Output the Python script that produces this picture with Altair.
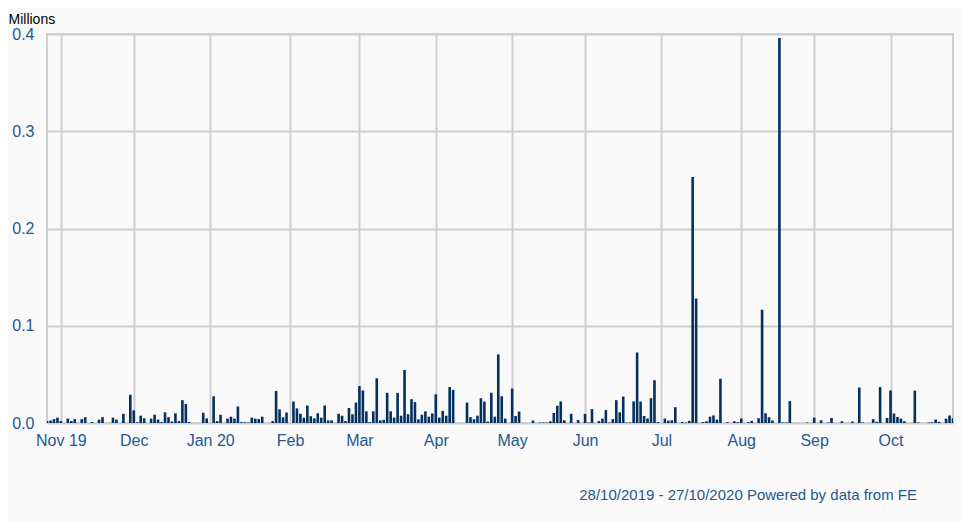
import altair as alt
import pandas as pd

# Daily traded volume (millions), one value per weekday 28/10/2019 .. 27/10/2020
volumes = [
    0.002, 0.0025, 0.004, 0.0055, 0.002, 0, 0.0045, 0.002, 0.004, 0,
    0.004, 0.006, 0, 0.001, 0, 0.0035, 0.006, 0, 0, 0.0055,
    0.0035, 0, 0.0095, 0, 0.029, 0.013, 0.0008, 0.0075, 0.0048, 0,
    0.0045, 0.0085, 0.0035, 0.001, 0.011, 0.006, 0.0015, 0.010, 0.002, 0.0235,
    0.0195, 0.001, 0, 0, 0, 0.0105, 0.0048, 0, 0.0275, 0.002,
    0.0085, 0, 0.0045, 0.0065, 0.0045, 0.017, 0.0008, 0.0008, 0.0005, 0.0055,
    0.0045, 0.004, 0.0065, 0, 0, 0.002, 0.033, 0.014, 0.0058, 0.0108,
    0, 0.022, 0.015, 0.0095, 0.0055, 0.018, 0.007, 0.0048, 0.010, 0.0055,
    0.018, 0.0027, 0.0027, 0, 0.0095, 0.0075, 0.002, 0.0155, 0.009, 0.021,
    0.038, 0.0335, 0.012, 0.001, 0.012, 0.046, 0.0027, 0.0032, 0.031, 0.012,
    0.0055, 0.031, 0.0075, 0.0545, 0.009, 0.0245, 0.0215, 0.0038, 0.0085, 0.012,
    0.0065, 0.0098, 0.0295, 0.0055, 0.0125, 0.0075, 0.037, 0.034, 0, 0,
    0, 0.021, 0.006, 0.0038, 0.0075, 0.0255, 0.022, 0.0015, 0.031, 0.0065,
    0.0705, 0.0275, 0.0045, 0, 0.0355, 0.0072, 0.0118, 0, 0, 0,
    0.0025, 0, 0.0005, 0.0005, 0.0005, 0.0018, 0.0103, 0.0178, 0.0222, 0.0028,
    0, 0.0095, 0, 0.003, 0, 0.0093, 0.0005, 0.0143, 0, 0.002,
    0.0045, 0.0133, 0.0005, 0.004, 0.0235, 0.011, 0.0272, 0.0005, 0.0005, 0.0222,
    0.0725, 0.022, 0.0072, 0.0046, 0.0255, 0.044, 0.001, 0, 0.0046, 0.0024,
    0.0028, 0.0163, 0, 0.001, 0.0005, 0.0022, 0.253, 0.128, 0, 0.001,
    0.0018, 0.0065, 0.0078, 0.0035, 0.0455, 0, 0.0008, 0, 0.0018, 0.0008,
    0.0047, 0, 0.0008, 0.0022, 0, 0.0049, 0.1165, 0.010, 0.0059, 0.0026,
    0, 0.396, 0.0005, 0.0005, 0.0225, 0, 0, 0, 0, 0.0005,
    0, 0.0055, 0, 0.0028, 0, 0.0005, 0.0052, 0, 0, 0.0018,
    0, 0, 0.0015, 0, 0.0365, 0.0005, 0, 0, 0.004, 0.0012,
    0.037, 0, 0.0052, 0.0335, 0.0098, 0.0062, 0.0046, 0.0018, 0, 0,
    0.0333, 0.0005, 0, 0, 0.0005, 0.0008, 0.0036, 0.0012, 0, 0.0045,
    0.0078, 0.005,
]

# Weekday calendar of the period shown
dates = pd.bdate_range("2019-10-28", "2020-10-27").strftime("%Y-%m-%d").tolist()

# Month tick positions (weekday index of each month's first weekday) and labels
tick_index = [4, 25, 47, 70, 90, 112, 134, 155, 177, 200, 221, 243]
tick_labels = ["Nov 19", "Dec", "Jan 20", "Feb", "Mar", "Apr", "May",
               "Jun", "Jul", "Aug", "Sep", "Oct"]
y_ticks = [0, 0.1, 0.2, 0.3, 0.4]

footer = "28/10/2019 - 27/10/2020 Powered by data from FE"

df = pd.DataFrame({
    "date": dates[:len(volumes)],
    "idx": list(range(len(volumes))),
    "volume": volumes,
})

BAR = "#03305f"
LABEL = "#245890"
GRID = "#cfcfcf"
FONT = "Liberation Sans"

label_expr = ("[" + ",".join("'%s'" % s for s in tick_labels) + "][indexof(["
              + ",".join(str(v) for v in tick_index) + "], datum.value)]")

chart = alt.Chart(df).mark_bar(color=BAR, size=2.6, clip=True).encode(
    x=alt.X(
        "idx:Q",
        scale=alt.Scale(domain=[0, len(volumes) - 1], nice=False, zero=False,
                        padding=0),
        axis=alt.Axis(
            values=tick_index, labelExpr=label_expr, title=None,
            grid=True, gridColor=GRID, gridWidth=2, ticks=False, domain=False,
            labelFontSize=16, labelColor=LABEL, labelFont=FONT, labelPadding=9,
            labelFlush=False, labelOverlap=False,
        ),
    ),
    y=alt.Y(
        "volume:Q",
        scale=alt.Scale(domain=[0, 0.4], nice=False),
        axis=alt.Axis(
            values=y_ticks, format=".1f",
            title="Millions", titleAngle=0, titleAlign="left",
            titleBaseline="alphabetic", titleX=-39, titleY=-11,
            titleFontSize=14, titleFontWeight="normal", titleColor="#000000",
            titleFont=FONT,
            grid=True, gridColor=GRID, gridWidth=2, ticks=False, domain=False,
            labelFontSize=16, labelColor=LABEL, labelFont=FONT, labelPadding=13,
        ),
    ),
    tooltip=["date:N", "volume:Q"],
).properties(
    width=906,
    height=389,
    background="#f9f9f9",
    padding={"left": 39, "top": 26, "right": 8, "bottom": 100},
    autosize=alt.AutoSizeParams(type="none"),
    title=alt.TitleParams(
        text=footer, orient="bottom", anchor="end", frame="group",
        fontSize=15, fontWeight="normal", color=LABEL, font=FONT,
        offset=40, dx=-36,
    ),
).configure_view(stroke=GRID, strokeWidth=2)

chart.save("out.html", embed_options={"renderer": "svg", "actions": False})
